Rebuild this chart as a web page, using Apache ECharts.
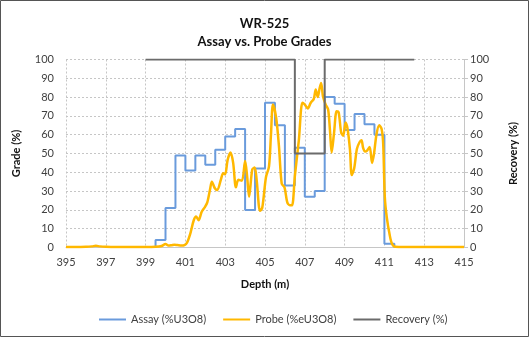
<!DOCTYPE html>
<html>
<head>
<meta charset="utf-8">
<script src="https://cdn.jsdelivr.net/npm/echarts@6/dist/echarts.min.js"></script>
<style>
html,body{margin:0;padding:0;background:#fff;}
#c{width:529px;height:337px;}
</style>
</head>
<body>
<div id="c"></div>
<script>
// ---- data ----
const titleText = "WR-525";
const subtitleText = "Assay vs. Probe Grades";
const seriesNames = ["Assay (%U3O8)", "Probe (%eU3O8)", "Recovery (%)"];

// Assay: each value holds from its depth to the next depth
const assayDepth = [399.5, 399.5, 400.0, 400.5, 401.0, 401.5, 402.0, 402.5, 403.0, 403.5, 404.0, 404.5, 405.0, 405.5, 406.0, 406.5, 407.0, 407.5, 408.0, 408.5, 409.0, 409.5, 410.0, 410.5, 411.0, 411.5];
const assayGrade = [0, 4, 21, 49, 41, 49, 44, 52, 59, 63, 20, 42, 77, 65, 33, 53, 27, 30, 80, 76.5, 62.5, 71, 65.5, 60, 2, 0];

const probeDepth = [395, 395.5, 396, 396.3, 396.5, 396.7, 397, 397.5, 398, 398.5, 399, 399.5, 399.8, 400.0, 400.15, 400.3, 400.45, 400.6, 400.8, 400.95,
  401.08, 401.25, 401.42, 401.54, 401.66, 401.82, 401.98, 402.1, 402.24, 402.33, 402.48, 402.6, 402.78, 402.9, 403.0, 403.12, 403.27, 403.4, 403.54, 403.66, 403.84,
  404.0, 404.1, 404.2, 404.36, 404.48, 404.58, 404.75, 404.86, 405.05, 405.2, 405.3, 405.4, 405.56, 405.7, 405.84, 405.98, 406.12, 406.25, 406.36,
  406.5, 406.7, 406.88, 407.0, 407.15, 407.3, 407.45, 407.55, 407.65, 407.75, 407.82, 407.92, 408.05, 408.17, 408.26, 408.35, 408.47, 408.6, 408.7, 408.83, 408.93,
  409.05, 409.15, 409.27, 409.36, 409.48, 409.62, 409.75, 409.85, 409.93, 410.03, 410.13, 410.26, 410.38, 410.48, 410.6, 410.74, 410.86, 410.94,
  411.02, 411.12, 411.26, 411.38, 411.55, 412, 413, 414, 415];
const probeGrade = [0.3, 0.3, 0.4, 0.6, 0.9, 0.6, 0.4, 0.3, 0.3, 0.3, 0.3, 0.4, 0.8, 1.8, 1.0, 1.2, 1.5, 1.3, 1.0, 1.2,
  2.5, 7.5, 14.5, 16.5, 14.5, 19, 21.5, 24, 31, 35, 31.5, 30.5, 36, 39.5, 39, 46.5, 50.5, 45, 32, 36, 35.5,
  46, 38, 27, 41.5, 42.5, 36, 19.5, 21, 37.5, 43, 60, 76, 69, 54, 34, 32, 24, 22.5, 22.5,
  38, 57, 77, 76, 74, 77, 79, 84, 80, 85, 87.5, 80, 76, 73.5, 63, 50.5, 61, 72.5, 72, 61, 59.5,
  66.5, 63, 52, 38.5, 42, 52.5, 56, 57, 53, 51, 51.5, 53.5, 45, 50, 60, 65, 63, 55,
  27, 16, 7, 2, 0.4, 0.3, 0.3, 0.3, 0.3];

const recoveryDepth = [399, 406.5, 406.5, 408, 408, 412.5];
const recoveryPct = [100, 100, 50, 50, 100, 100];

const zip = (xs, ys) => xs.map((x, i) => [x, ys[i]]);

// ---- chart ----
const FONT = "Lato";
const chart = echarts.init(document.getElementById('c'), null, {renderer: 'canvas'});
const gridColor = '#c6c6c6';
chart.setOption({
  animation: false,
  backgroundColor: '#fff',
  textStyle: {fontFamily: FONT},
  graphic: [{
    type: 'rect', silent: true, z: 100,
    shape: {x: 0.5, y: 0.5, width: 528, height: 336},
    style: {fill: 'none', stroke: '#555', lineWidth: 1}
  }],
  title: {
    text: titleText, subtext: subtitleText, left: 'center', top: 11, itemGap: 2,
    textStyle: {fontFamily: FONT, fontSize: 13, fontWeight: 'bold', color: '#111', lineHeight: 16},
    subtextStyle: {fontFamily: FONT, fontSize: 13, fontWeight: 'bold', color: '#111', lineHeight: 16}
  },
  legend: {
    data: seriesNames.map(n => ({name: n, icon: 'rect'})),
    left: 94, top: 309, itemWidth: 27, itemHeight: 2, itemGap: 17,
    textStyle: {fontFamily: FONT, fontSize: 11, color: '#404040'}
  },
  grid: {left: 66, right: 65, top: 59.5, bottom: 89.5},
  xAxis: {
    type: 'value', min: 395, max: 415, interval: 2,
    name: 'Depth (m)', nameLocation: 'middle', nameGap: 31,
    nameTextStyle: {fontFamily: FONT, fontSize: 11, fontWeight: 'bold', color: '#111'},
    axisLine: {show: true, lineStyle: {color: gridColor}},
    axisTick: {show: false},
    axisLabel: {margin: 9, fontFamily: FONT, fontSize: 11, color: '#404040'},
    splitLine: {show: true, lineStyle: {color: gridColor, type: [2, 2]}}
  },
  yAxis: [{
    type: 'value', min: 0, max: 100, interval: 10,
    name: 'Grade (%)', nameLocation: 'middle', nameGap: 44,
    nameTextStyle: {fontFamily: FONT, fontSize: 11, fontWeight: 'bold', color: '#111'},
    axisLine: {show: false}, axisTick: {show: false},
    axisLabel: {margin: 12, fontFamily: FONT, fontSize: 11, color: '#404040'},
    splitLine: {show: true, lineStyle: {color: gridColor, type: [2, 2]}}
  }, {
    type: 'value', min: 0, max: 100, interval: 10, position: 'right',
    name: 'Recovery (%)', nameLocation: 'middle', nameGap: 44,
    nameTextStyle: {fontFamily: FONT, fontSize: 11, fontWeight: 'bold', color: '#111'},
    axisLine: {show: true, lineStyle: {color: gridColor}},
    axisTick: {show: true, length: 4, lineStyle: {color: gridColor}},
    axisLabel: {margin: 6, fontFamily: FONT, fontSize: 11, color: '#404040'},
    splitLine: {show: false}
  }],
  series: [{
    name: seriesNames[0], type: 'line', step: 'end', symbol: 'none',
    data: zip(assayDepth, assayGrade),
    lineStyle: {color: '#6a9bdc', width: 2}, itemStyle: {color: '#6a9bdc'}
  }, {
    name: seriesNames[1], type: 'line', symbol: 'none', smooth: 0.3,
    data: zip(probeDepth, probeGrade),
    lineStyle: {color: '#ffb800', width: 2.5}, itemStyle: {color: '#ffb800'}
  }, {
    name: seriesNames[2], type: 'line', symbol: 'none', yAxisIndex: 1,
    data: zip(recoveryDepth, recoveryPct),
    lineStyle: {color: '#6b6b6b', width: 2}, itemStyle: {color: '#6b6b6b'}
  }]
});
</script>
</body>
</html>
